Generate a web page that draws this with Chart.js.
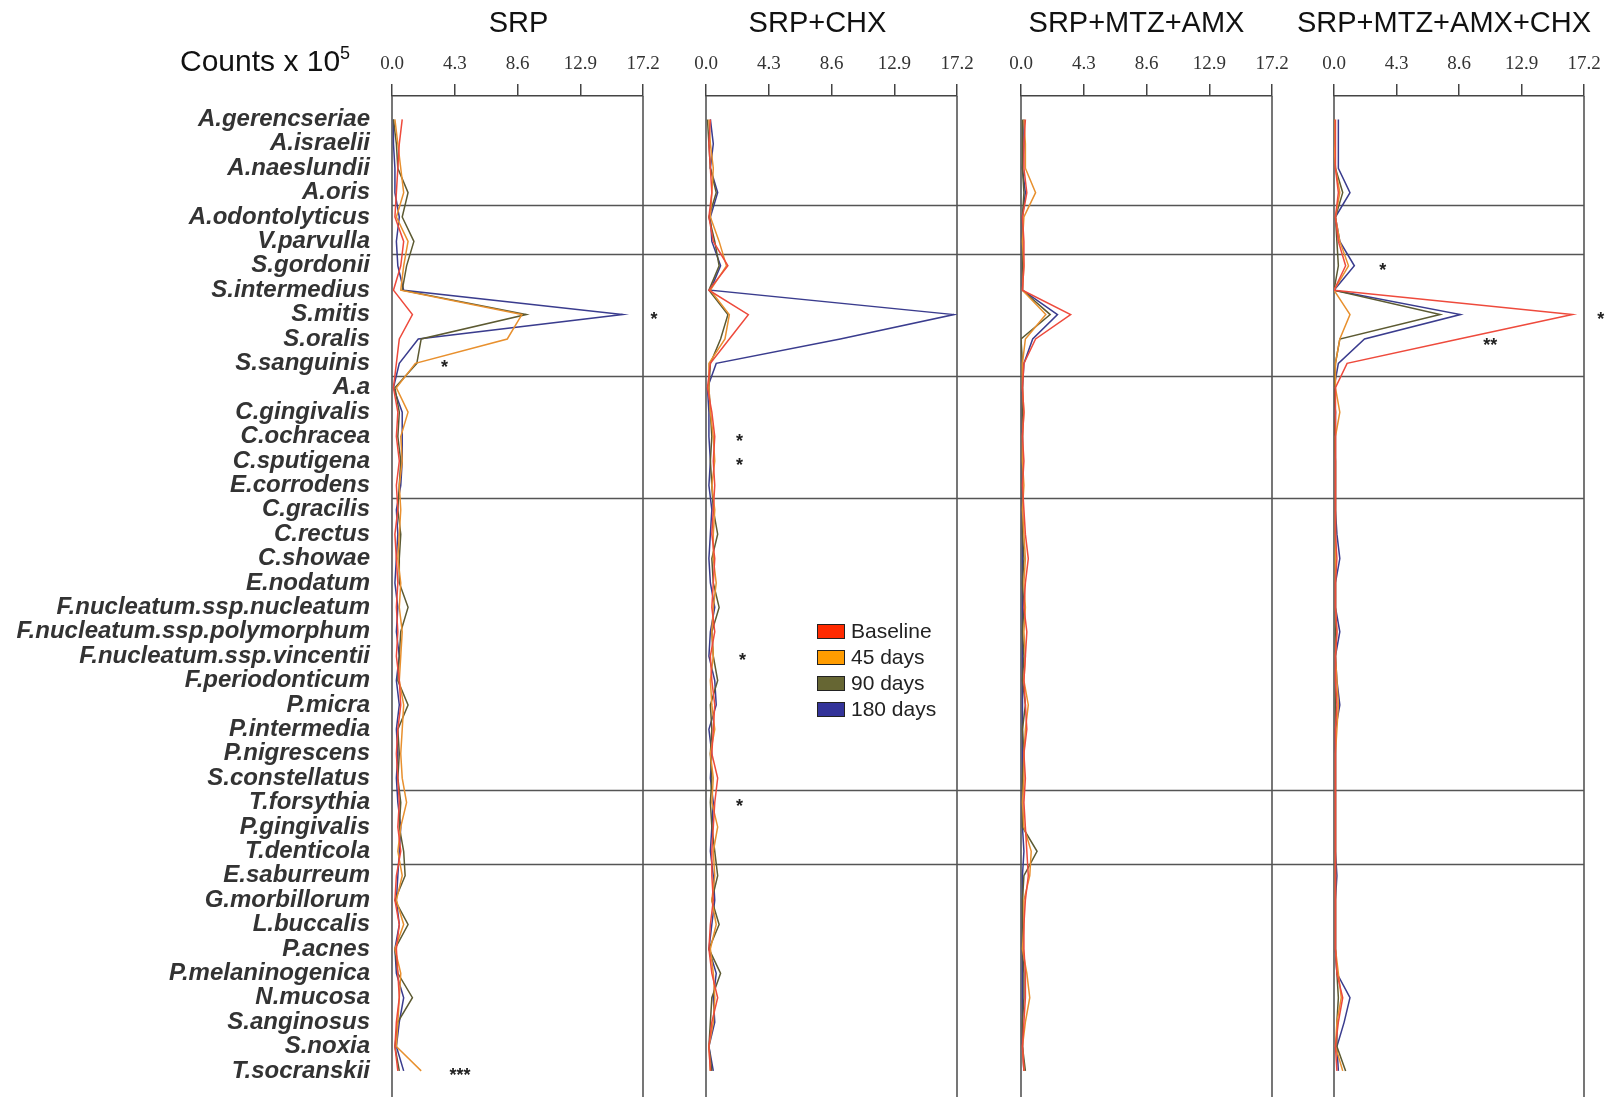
<!DOCTYPE html>
<html>
<head>
<meta charset="utf-8">
<script src="https://cdn.jsdelivr.net/npm/chart.js@4.4.1/dist/chart.umd.min.js"></script>
<style>
body{margin:0;background:#fff;width:1612px;height:1097px;overflow:hidden;position:relative;font-family:"Liberation Sans",Arial,sans-serif}
canvas{position:absolute;left:0;top:0}
#counts{position:absolute;left:180px;top:44px;font-size:30px;line-height:34px;color:#111;white-space:nowrap}
#counts sup{font-size:18px;vertical-align:0;position:relative;top:-12px}
#legend{position:absolute;left:817px;top:618px;font-size:21px;color:#222}
.item{height:26px;display:flex;align-items:center}
.box{width:28px;height:15px;border:1px solid #222;margin-right:6px;box-sizing:border-box}
</style>
</head>
<body>
<canvas id="c1" width="1612" height="1097"></canvas>
<canvas id="c2" width="1612" height="1097"></canvas>
<canvas id="c3" width="1612" height="1097"></canvas>
<canvas id="c4" width="1612" height="1097"></canvas>
<div id="counts">Counts x 10<sup>5</sup></div>
<div id="legend"></div>
<script>
var species = ['A.gerencseriae','A.israelii','A.naeslundii','A.oris','A.odontolyticus','V.parvulla',
  'S.gordonii','S.intermedius','S.mitis','S.oralis','S.sanguinis','A.a','C.gingivalis','C.ochracea',
  'C.sputigena','E.corrodens','C.gracilis','C.rectus','C.showae','E.nodatum',
  'F.nucleatum.ssp.nucleatum','F.nucleatum.ssp.polymorphum','F.nucleatum.ssp.vincentii',
  'F.periodonticum','P.micra','P.intermedia','P.nigrescens','S.constellatus','T.forsythia',
  'P.gingivalis','T.denticola','E.saburreum','G.morbillorum','L.buccalis','P.acnes',
  'P.melaninogenica','N.mucosa','S.anginosus','S.noxia','T.socranskii']
var xTicks = [0, 4.3, 8.6, 12.9, 17.2]
var seriesNames = ['Baseline', '45 days', '90 days', '180 days']
var panelTitles = ['SRP', 'SRP+CHX', 'SRP+MTZ+AMX', 'SRP+MTZ+AMX+CHX']
// rows where the horizontal separators fall (between complexes)
var groupBreaks = [3.5, 5.5, 10.5, 15.5, 27.5, 30.5]

// SRP
var srpBase = [0.7,0.5,0.4,0.3,0.2,0.8,0.6,0.1,1.4,0.5,0.3,0.1,0.4,0.3,0.5,0.3,0.4,0.2,0.3,0.4,0.3,0.4,0.3,0.5,0.6,0.4,0.3,0.4,0.5,0.4,0.6,0.3,0.2,0.5,0.3,0.4,0.5,0.3,0.2,0.4]
var srp45 = [0.2,0.4,0.6,0.8,0.3,1.1,0.8,0.6,8.9,7.9,1.6,0.3,1.1,0.6,0.7,0.5,0.6,0.5,0.4,0.6,0.5,0.7,0.6,0.5,0.8,0.7,0.6,0.7,1.0,0.6,0.4,0.7,0.3,0.8,0.2,0.6,0.5,0.4,0.3,2.0]
var srp90 = [0.1,0.3,0.4,1.1,0.7,1.5,1.0,0.7,9.2,2.0,1.7,0.2,0.5,0.4,0.6,0.5,0.4,0.6,0.5,0.5,1.1,0.6,0.5,0.4,1.1,0.4,0.5,0.4,0.6,0.5,0.8,0.9,0.2,1.1,0.2,0.4,1.4,0.4,0.2,0.5]
var srp180 = [0.1,0.1,0.2,0.2,0.5,0.3,0.4,0.8,15.8,1.8,0.5,0.1,0.7,0.7,0.7,0.6,0.3,0.4,0.3,0.2,0.4,0.3,0.5,0.3,0.5,0.3,0.4,0.3,0.4,0.6,0.5,0.4,0.3,0.5,0.2,0.3,0.8,0.5,0.3,0.8]
// SRP+CHX
var chxBase = [0.3,0.2,0.3,0.4,0.2,0.5,1.5,0.2,2.9,1.6,0.3,0.1,0.4,0.6,0.5,0.6,0.5,0.4,0.6,0.5,0.4,0.6,0.3,0.4,0.6,0.5,0.4,0.8,0.6,0.5,0.4,0.4,0.5,0.3,0.2,0.4,0.8,0.4,0.2,0.3]
var chx45 = [0.2,0.3,0.5,0.4,0.3,0.9,1.4,0.3,1.6,1.3,0.2,0.2,0.3,0.5,0.6,0.4,0.6,0.5,0.5,0.7,0.5,0.4,0.5,0.3,0.4,0.6,0.3,0.5,0.4,0.8,0.5,0.6,0.4,0.7,0.3,0.5,0.6,0.5,0.2,0.3]
var chx90 = [0.1,0.2,0.3,0.7,0.2,0.6,0.9,0.2,1.5,1.0,0.3,0.2,0.3,0.4,0.3,0.4,0.5,0.8,0.4,0.5,0.9,0.4,0.5,0.8,0.3,0.4,0.3,0.4,0.3,0.4,0.6,0.8,0.4,0.9,0.2,1.0,0.4,0.3,0.2,0.4]
var chx180 = [0.3,0.5,0.3,0.8,0.3,0.4,1.0,0.3,17.0,9.2,0.7,0.1,0.2,0.2,0.3,0.2,0.4,0.3,0.2,0.3,0.6,0.3,0.2,0.6,0.7,0.2,0.4,0.3,0.5,0.4,0.3,0.5,0.6,0.4,0.2,0.7,0.5,0.6,0.2,0.5]
// SRP+MTZ+AMX
var mtzBase = [0.3,0.2,0.2,0.4,0.1,0.2,0.2,0.1,3.4,1.0,0.2,0.1,0.2,0.1,0.2,0.1,0.2,0.3,0.5,0.3,0.2,0.4,0.3,0.2,0.3,0.4,0.2,0.3,0.2,0.3,0.4,0.5,0.3,0.2,0.2,0.3,0.3,0.2,0.1,0.2]
var mtz45 = [0.2,0.3,0.3,1.0,0.2,0.1,0.2,0.1,1.7,0.3,0.1,0.1,0.2,0.1,0.1,0.2,0.1,0.2,0.3,0.2,0.3,0.2,0.3,0.2,0.5,0.3,0.2,0.2,0.1,0.2,0.7,0.6,0.2,0.2,0.1,0.4,0.6,0.3,0.1,0.2]
var mtz90 = [0.1,0.1,0.1,0.2,0.1,0.1,0.1,0.1,2.0,0.0,0.1,0.1,0.1,0.1,0.1,0.1,0.1,0.1,0.2,0.1,0.2,0.1,0.2,0.1,0.3,0.1,0.2,0.1,0.1,0.1,1.1,0.2,0.1,0.1,0.1,0.2,0.2,0.1,0.1,0.3]
var mtz180 = [0.2,0.2,0.1,0.3,0.1,0.1,0.1,0.1,2.5,0.8,0.2,0.1,0.1,0.1,0.1,0.1,0.1,0.1,0.1,0.1,0.1,0.1,0.1,0.1,0.1,0.1,0.1,0.1,0.1,0.1,0.2,0.1,0.1,0.1,0.1,0.1,0.1,0.1,0.1,0.2]
// SRP+MTZ+AMX+CHX
var mcBase = [0.1,0.1,0.1,0.3,0.1,0.3,0.8,0.0,16.4,8.6,0.9,0.1,0.1,0.1,0.1,0.1,0.1,0.1,0.2,0.1,0.1,0.2,0.1,0.1,0.2,0.1,0.1,0.1,0.1,0.1,0.1,0.1,0.1,0.1,0.1,0.2,0.6,0.3,0.1,0.2]
var mc45 = [0.0,0.0,0.1,0.4,0.1,0.4,1.0,0.0,1.1,0.4,0.1,0.1,0.4,0.1,0.1,0.1,0.1,0.1,0.1,0.1,0.1,0.2,0.1,0.2,0.3,0.2,0.1,0.1,0.1,0.1,0.1,0.1,0.1,0.1,0.1,0.3,0.5,0.2,0.1,0.6]
var mc90 = [0.0,0.0,0.1,0.6,0.1,0.2,0.3,0.0,7.3,0.4,0.1,0.0,0.1,0.0,0.1,0.1,0.1,0.1,0.1,0.1,0.1,0.1,0.1,0.1,0.1,0.1,0.1,0.1,0.1,0.1,0.1,0.1,0.1,0.1,0.1,0.2,0.3,0.2,0.2,0.8]
var mc180 = [0.3,0.3,0.3,1.1,0.1,0.4,1.4,0.0,8.7,2.1,0.3,0.0,0.1,0.1,0.1,0.1,0.1,0.2,0.4,0.1,0.1,0.4,0.1,0.2,0.4,0.1,0.1,0.1,0.1,0.1,0.1,0.2,0.1,0.1,0.1,0.2,1.1,0.7,0.2,0.3]

// significance marks: x in counts, y = species row
var srpStars = [{x: 17.95, y: 8, t: '*'}, {x: 3.6, y: 10, t: '*'}, {x: 4.66, y: 39, t: '***'}]
var chxStars = [{x: 2.3, y: 13, t: '*'}, {x: 2.3, y: 14, t: '*'}, {x: 2.5, y: 22, t: '*'}, {x: 2.3, y: 28, t: '*'}]
var mtzStars = []
var mcStars = [{x: 3.35, y: 6, t: '*'}, {x: 18.35, y: 8, t: '*'}, {x: 10.75, y: 9.1, t: '**'}]

var lineColors = ['#ee4a3c', '#e8902e', '#5c5a32', '#3a3c8e']
var boxColors = ['#ff2a00', '#ff9c00', '#666633', '#333399']

var framePlugin = {
  id: 'frame',
  beforeDatasetsDraw: function(chart, args, opts) {
    var ctx = chart.ctx, a = chart.chartArea, ys = chart.scales.y
    ctx.save()
    ctx.strokeStyle = '#555'
    ctx.lineWidth = 1.6
    if (opts.groups) {
      groupBreaks.forEach(function(g) {
        var y = Math.round(ys.getPixelForValue(g)) + 0.5
        ctx.beginPath(); ctx.moveTo(a.left, y); ctx.lineTo(opts.groupsTo, y); ctx.stroke()
      })
    }
    ctx.beginPath()
    ctx.moveTo(a.left, a.top); ctx.lineTo(a.left, a.bottom)
    ctx.moveTo(a.right, a.top); ctx.lineTo(a.right, a.bottom)
    ctx.stroke()
    // panel title, not squeezed to the panel width
    ctx.font = '29px "Liberation Sans"'
    ctx.fillStyle = '#111'
    ctx.textAlign = 'center'
    ctx.textBaseline = 'middle'
    ctx.fillText(opts.title, (a.left + a.right) / 2 + opts.titleShift, 24)
    ctx.restore()
  },
  afterDatasetsDraw: function(chart, args, opts) {
    var ctx = chart.ctx, xs = chart.scales.x, ys = chart.scales.y
    ctx.save()
    ctx.font = 'bold 18px "Liberation Sans"'
    ctx.fillStyle = '#222'
    ctx.textAlign = 'center'
    ctx.textBaseline = 'middle'
    opts.stars.forEach(function(m) {
      ctx.fillText(m.t, xs.getPixelForValue(m.x), ys.getPixelForValue(m.y) + 5)
    })
    ctx.restore()
  }
}

function makePanel(id, idx, series, stars, left, right, titleShift) {
  var first = idx == 0
  var datasets = series.map(function(vals, k) {
    return {
      label: seriesNames[k],
      data: vals.map(function(v, i) { return {x: v, y: i} }),
      showLine: true,
      borderColor: lineColors[k],
      backgroundColor: lineColors[k],
      borderWidth: 1.5,
      pointRadius: 0,
      tension: 0
    }
  })
  return new Chart(document.getElementById(id), {
    type: 'scatter',
    data: {datasets: datasets},
    options: {
      responsive: false,
      animation: false,
      layout: {padding: {left: first ? 0 : left, right: 1612 - right, top: 0, bottom: 0}},
      plugins: {
        legend: {display: false},
        tooltip: {enabled: false},
        title: {display: false},
        frame: {stars: stars, groups: first, groupsTo: 1584, title: panelTitles[idx], titleShift: titleShift}
      },
      scales: {
        x: {
          type: 'linear', position: 'top', min: 0, max: 17.2,
          afterBuildTicks: function(s) { s.ticks = xTicks.map(function(v) { return {value: v} }) },
          afterFit: function(s) { s.height = 96 },
          ticks: {
            autoSkip: false, maxRotation: 0, padding: 9, color: '#333',
            font: {family: 'Liberation Serif', size: 19},
            callback: function(v) { return v.toFixed(1) }
          },
          grid: {drawOnChartArea: false, tickLength: 12, color: '#444', lineWidth: 1.5},
          border: {display: true, color: '#444', width: 1.5}
        },
        y: {
          type: 'linear', display: first, reverse: true, min: -0.96, max: 40.07,
          afterBuildTicks: function(s) { s.ticks = species.map(function(n, i) { return {value: i} }) },
          afterFit: function(s) {
            if (!first) return
            s.width = left
            s.paddingTop = 0
            s.paddingBottom = 0
          },
          ticks: {
            autoSkip: false, padding: 14, color: '#333',
            font: {family: 'Liberation Sans', size: 24, style: 'italic', weight: 'bold', lineHeight: 1},
            callback: function(v, i) { return species[i] }
          },
          grid: {display: false},
          border: {display: false}
        }
      }
    },
    plugins: [framePlugin]
  })
}

makePanel('c1', 0, [srpBase, srp45, srp90, srp180], srpStars, 392, 643, 1)
makePanel('c2', 1, [chxBase, chx45, chx90, chx180], chxStars, 706, 957, -14)
makePanel('c3', 2, [mtzBase, mtz45, mtz90, mtz180], mtzStars, 1021, 1272, -10)
makePanel('c4', 3, [mcBase, mc45, mc90, mc180], mcStars, 1334, 1584, -15)

var legend = document.getElementById('legend')
seriesNames.forEach(function(name, k) {
  var row = document.createElement('div')
  row.className = 'item'
  row.innerHTML = '<div class="box" style="background:' + boxColors[k] + '"></div><span>' + name + '</span>'
  legend.appendChild(row)
})
</script>
</body>
</html>
